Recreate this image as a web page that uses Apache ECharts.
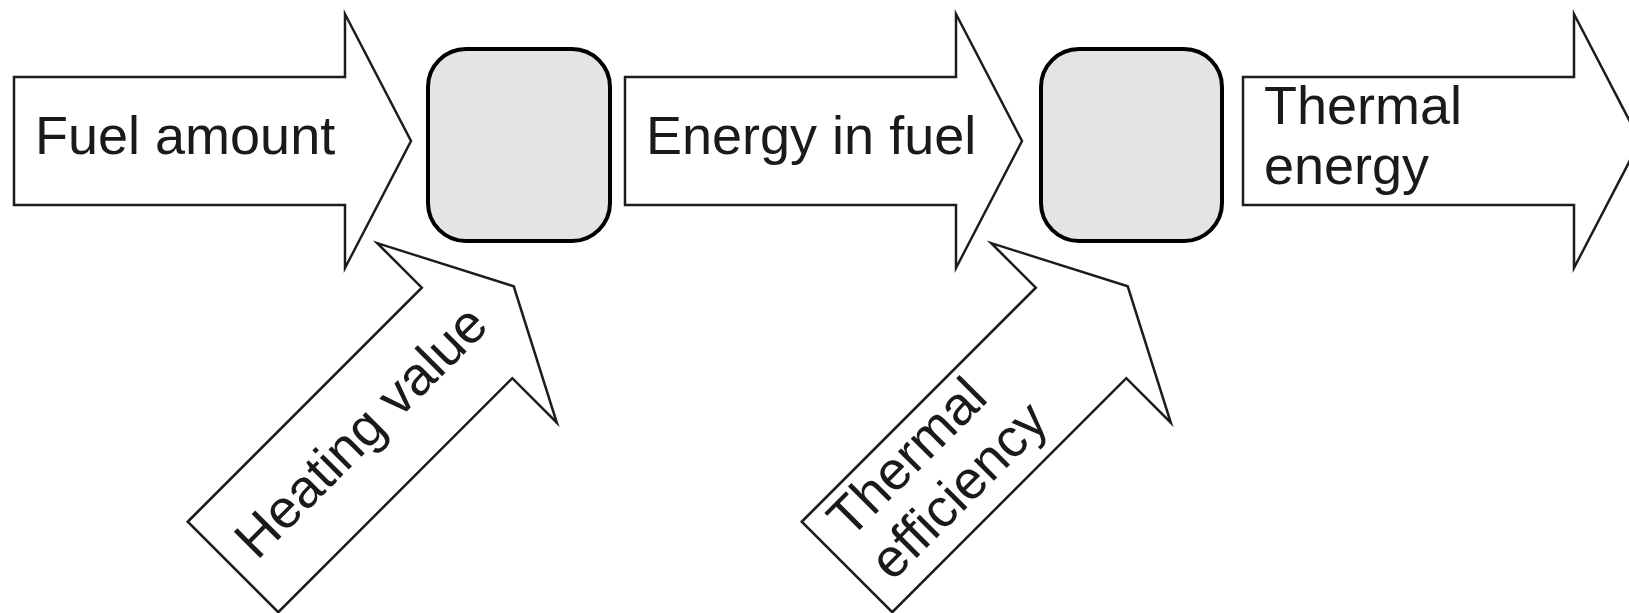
<!DOCTYPE html>
<html>
<head>
<meta charset="utf-8">
<script src="https://cdn.jsdelivr.net/npm/echarts@6/dist/echarts.min.js"></script>
<style>
  html, body { margin: 0; padding: 0; background: #fff; }
  #chart { width: 1629px; height: 613px; }
</style>
</head>
<body>
<div id="chart"></div>
<script>
// main flow: horizontal arrows (tail position, label)
const flowLabels = ['Fuel amount', 'Energy in fuel', 'Thermal\nenergy'];
const flowTailX = [14, 625, 1243];
const flowTailY = [141, 141, 141];
const flowAngle = [0, 0, 0];

// factors feeding into the converters: tilted arrows
const factorLabels = ['Heating value', 'Thermal\nefficiency'];
const factorTailX = [233, 847];
const factorTailY = [567, 567];
const factorAngle = [45, 45];

// converter boxes (grey rounded squares)
const converterLeft = [428, 1041];
const converterRight = [610, 1222];
const converterTop = [49, 49];
const converterBottom = [241, 241];

// arrow geometry, in pixels along / across the shaft
const BODY_LEN = 331;
const HALF_BODY = 64;
const HALF_HEAD = 127;
const HEAD_LEN = 66;
const FONT = '"Liberation Sans", Arial, sans-serif';

function arrowRenderer(labels) {
  return function (params, api) {
    const p = api.coord([api.value(0), api.value(1)]);
    const a = api.value(2) * Math.PI / 180;
    const dx = Math.cos(a), dy = -Math.sin(a);
    const nx = -dy, ny = dx;
    const pt = (u, v) => [p[0] + u * dx + v * nx, p[1] + u * dy + v * ny];
    const shape = [
      pt(0, -HALF_BODY), pt(BODY_LEN, -HALF_BODY), pt(BODY_LEN, -HALF_HEAD),
      pt(BODY_LEN + HEAD_LEN, 0), pt(BODY_LEN, HALF_HEAD), pt(BODY_LEN, HALF_BODY),
      pt(0, HALF_BODY)
    ];
    const t = pt(21, -2);
    return {
      type: 'group',
      children: [{
        type: 'polygon',
        shape: { points: shape },
        style: { fill: '#fff', stroke: '#1c1c1c', lineWidth: 2.5, lineJoin: 'miter' }
      }, {
        type: 'text',
        x: t[0],
        y: t[1],
        rotation: a,
        style: {
          text: labels[params.dataIndex],
          fontSize: 54,
          fontFamily: FONT,
          fill: '#1a1a1a',
          align: 'left',
          verticalAlign: 'middle',
          lineHeight: 60
        }
      }]
    };
  };
}

function boxRenderer(params, api) {
  const tl = api.coord([api.value(0), api.value(2)]);
  const br = api.coord([api.value(1), api.value(3)]);
  return {
    type: 'rect',
    shape: { x: tl[0], y: tl[1], width: br[0] - tl[0], height: br[1] - tl[1], r: 38 },
    style: { fill: '#e4e4e4', stroke: '#000', lineWidth: 4 }
  };
}

const chart = echarts.init(document.getElementById('chart'));
chart.setOption({
  backgroundColor: '#fff',
  animation: false,
  grid: { left: 0, right: 0, top: 0, bottom: 0 },
  xAxis: { type: 'value', min: 0, max: 1629, show: false },
  yAxis: { type: 'value', min: 0, max: 613, inverse: true, show: false },
  series: [{
    type: 'custom',
    name: 'converters',
    renderItem: boxRenderer,
    data: converterLeft.map((x, i) => [x, converterRight[i], converterTop[i], converterBottom[i]])
  }, {
    type: 'custom',
    name: 'flows',
    renderItem: arrowRenderer(flowLabels),
    data: flowTailX.map((x, i) => [x, flowTailY[i], flowAngle[i]])
  }, {
    type: 'custom',
    name: 'factors',
    renderItem: arrowRenderer(factorLabels),
    data: factorTailX.map((x, i) => [x, factorTailY[i], factorAngle[i]])
  }]
});
</script>
</body>
</html>
